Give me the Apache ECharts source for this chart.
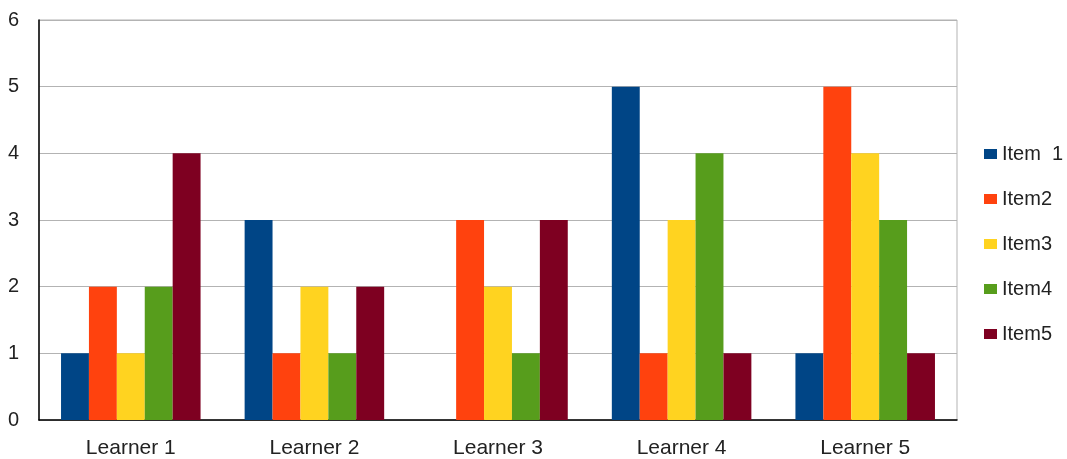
<!DOCTYPE html>
<html><head><meta charset="utf-8">
<script src="https://cdn.jsdelivr.net/npm/echarts@6/dist/echarts.min.js"></script>
<style>html,body{margin:0;padding:0;background:#fff}#c{width:1067px;height:459px}</style>
</head><body><div id="c"></div>
<script>
const categories = ['Learner 1','Learner 2','Learner 3','Learner 4','Learner 5'];
const seriesNames = ['Item  1','Item2','Item3','Item4','Item5'];
const item1 = [1,3,0,5,1];
const item2 = [2,1,3,1,5];
const item3 = [1,2,2,3,4];
const item4 = [2,1,1,4,3];
const item5 = [4,2,3,1,1];
const colors = ['#004586','#ff420e','#ffd320','#579d1c','#7e0021'];
const values = [item1,item2,item3,item4,item5];

const chart = echarts.init(document.getElementById('c'));
chart.setOption({
  animation:false,
  color: colors,
  textStyle:{fontFamily:'Liberation Sans, Arial, sans-serif'},
  grid:{left:39,right:110,top:20,bottom:38,show:true,borderColor:'#b3b3b3',borderWidth:1},
  legend:{orient:'vertical',left:979,top:139,itemWidth:13,itemHeight:10,itemGap:25,
    icon:'rect',textStyle:{fontSize:20,color:'#222'},data:seriesNames},
  xAxis:{type:'category',data:categories,
    axisLine:{lineStyle:{color:'#000',width:1.5}},axisTick:{show:false},
    axisLabel:{fontSize:21,color:'#222',margin:18}},
  yAxis:{type:'value',min:0,max:6,interval:1,
    axisLine:{show:true,lineStyle:{color:'#000',width:1.5}},axisTick:{show:false},
    axisLabel:{fontSize:20,color:'#222',margin:20,align:'right'},
    splitLine:{lineStyle:{color:'#b3b3b3',width:1}}},
  series: values.map((v,i)=>({name:seriesNames[i],type:'bar',data:v,
    barGap:'0%',barCategoryGap:'24%'}))
});
</script></body></html>
